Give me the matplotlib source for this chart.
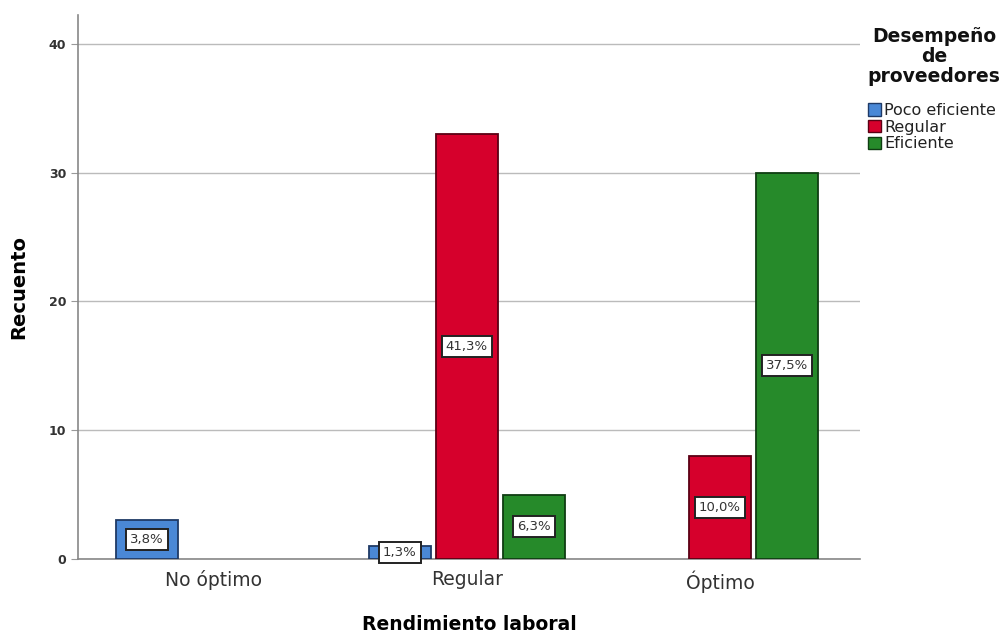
import numpy as np
import matplotlib.pyplot as plt
from matplotlib.patches import Patch
from decimal import Decimal, ROUND_HALF_UP

categorias = ['No óptimo', 'Regular', 'Óptimo']
series = ['Poco eficiente', 'Regular', 'Eficiente']
# conteos por categoría de rendimiento (None = sin casos)
poco_eficiente = [3, 1, None]
regular = [None, 33, 8]
eficiente = [None, 5, 30]
total = 80

colores = ['#4a88d6', '#d6002c', '#268a2a']
bordes = ['#1f3a66', '#5a0014', '#0f3d12']


def porcentaje(v):
    p = Decimal(v * 100) / Decimal(total)
    return str(p.quantize(Decimal('0.1'), rounding=ROUND_HALF_UP)).replace('.', ',') + '%'


fig = plt.figure(figsize=(10.05, 6.33), dpi=100)
ax = fig.add_axes([0.0776, 0.1169, 0.778, 0.8594])

x = np.arange(len(categorias))
ancho = 0.245
desplaz = 0.265

for i, (vals, col, borde) in enumerate(zip([poco_eficiente, regular, eficiente], colores, bordes)):
    for j, v in enumerate(vals):
        if v is None:
            continue
        xpos = x[j] + (i - 1) * desplaz
        ax.bar(xpos, v, width=ancho, color=col, edgecolor=borde, linewidth=1.3, zorder=3)
        ax.text(xpos, v / 2, porcentaje(v), ha='center', va='center', fontsize=9.5,
                color='#333333', zorder=4,
                bbox=dict(boxstyle='square,pad=0.3', fc='white', ec='#222222', lw=1.4))

ax.set_xlim(-0.537, 2.553)
ax.set_ylim(0, 42.25)
ax.set_yticks([0, 10, 20, 30, 40])
ax.set_xticks(x)
ax.set_xticklabels(categorias, fontsize=13.5, color='#333333')
ax.tick_params(axis='x', length=0, pad=8)
ax.tick_params(axis='y', length=5, color='#999999', labelsize=9, labelcolor='#333333')
for t in ax.get_yticklabels():
    t.set_fontweight('bold')
ax.yaxis.grid(True, color='#bbbbbb', linewidth=1, zorder=0)
ax.set_axisbelow(True)

for s in ['top', 'right']:
    ax.spines[s].set_visible(False)
for s in ['left', 'bottom']:
    ax.spines[s].set_color('#888888')
    ax.spines[s].set_linewidth(1.2)

ax.set_xlabel('Rendimiento laboral', fontsize=13.5, fontweight='bold', labelpad=16)
ax.set_ylabel('Recuento', fontsize=14, fontweight='bold', labelpad=15)

# título de la leyenda aparte, centrado sobre las entradas
fig.text(934 / 1005, 1 - 27 / 633, 'Desempeño\nde\nproveedores', ha='center', va='top',
         fontsize=13.5, fontweight='bold', linespacing=1.08, color='#111111')

handles = [Patch(facecolor=c, edgecolor=b, label=s) for c, b, s in zip(colores, bordes, series)]
leg = fig.legend(handles=handles, loc='upper left',
                 bbox_to_anchor=(0.8637, 1 - 103 / 633), frameon=False, fontsize=11.5,
                 handlelength=0.8, handleheight=0.8, handletextpad=0.2, labelspacing=0.1,
                 borderaxespad=0, borderpad=0.0)
for t in leg.get_texts():
    t.set_color('#222222')

fig.savefig('out.png', dpi=100)
